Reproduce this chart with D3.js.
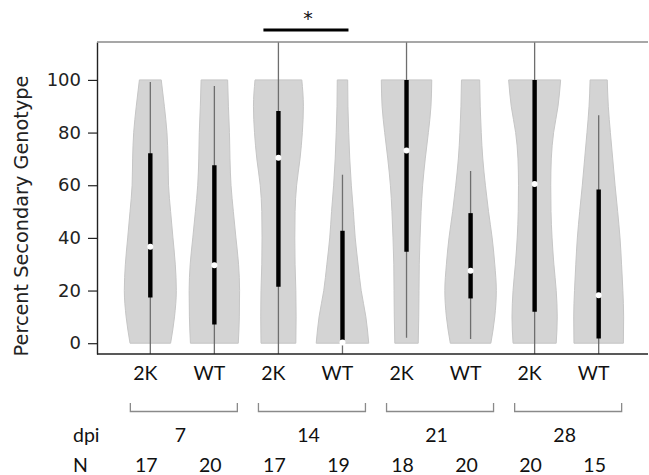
<!DOCTYPE html>
<html>
<head>
<meta charset="utf-8">
<script src="https://cdn.jsdelivr.net/npm/d3@7"></script>
<style>
  body { margin: 0; background: #fff; }
  svg { display: block; }
  .y-title { font-family: "DejaVu Sans", sans-serif; font-size: 19.3px; fill: #222; }
  .cat { font-family: Lato, "Open Sans", sans-serif; font-size: 19.5px; fill: #111; }
  .star { font-family: "DejaVu Sans", sans-serif; font-size: 19px; fill: #111; }
</style>
</head>
<body>
<div id="chart"></div>
<script>
// Violin plot: percent secondary genotype per group (2K / WT at 7, 14, 21, 28 dpi)

const groups = ["2K 7", "WT 7", "2K 14", "WT 14", "2K 21", "WT 21", "2K 28", "WT 28"];
const genotypes = ["2K", "WT", "2K", "WT", "2K", "WT", "2K", "WT"];
const dpiLabels = ["7", "14", "21", "28"];
const nValues = [17, 20, 17, 19, 18, 20, 20, 15];
const yTicks = [0, 20, 40, 60, 80, 100];

// density profile, read at 0, 10, ..., 100 (relative, max ~1)
const densityLevels = [0, 10, 20, 30, 40, 50, 60, 70, 80, 90, 100];
const densities = [
  [0.78, 0.93, 1.00, 0.96, 0.87, 0.78, 0.70, 0.68, 0.64, 0.54, 0.42],
  [0.92, 0.96, 0.97, 0.93, 0.83, 0.73, 0.64, 0.60, 0.58, 0.54, 0.51],
  [0.67, 0.68, 0.67, 0.64, 0.63, 0.64, 0.70, 0.83, 0.92, 0.96, 0.90],
  [1.01, 0.90, 0.72, 0.60, 0.49, 0.42, 0.34, 0.28, 0.24, 0.21, 0.20],
  [0.45, 0.47, 0.48, 0.49, 0.52, 0.56, 0.62, 0.72, 0.84, 0.94, 0.97],
  [0.78, 0.93, 0.99, 0.93, 0.83, 0.69, 0.57, 0.47, 0.41, 0.37, 0.35],
  [0.83, 0.87, 0.83, 0.74, 0.67, 0.63, 0.62, 0.64, 0.73, 0.90, 1.00],
  [0.95, 0.96, 0.93, 0.88, 0.82, 0.73, 0.63, 0.54, 0.45, 0.37, 0.33]
];

const q1 = [17.4, 7.1, 21.4, 1.1, 34.7, 17.0, 11.9, 1.8];
const q3 = [72.1, 67.6, 88.2, 42.7, 100, 49.4, 100, 58.4];
const medians = [36.6, 29.6, 70.4, 0.3, 73.2, 27.5, 60.5, 18.2];
const whiskerLo = [-10, -10, -10, -10, 2.1, 1.6, -10, -10];
const whiskerHi = [99.2, 97.7, 130, 64.0, 130, 65.4, 130, 86.6];

const W = 649, H = 475;
const plot = { left: 97, right: 648, top: 42, bottom: 354 };

const svg = d3.select("#chart").append("svg")
  .attr("width", W)
  .attr("height", H);

const x = d3.scalePoint()
  .domain(groups)
  .range([plot.left + 4, plot.right])
  .padding(0.77);

const y = d3.scaleLinear()
  .domain([-4.1, 114.4])
  .range([plot.bottom, plot.top])
  .clamp(true);

const w = d3.scaleLinear().domain([0, 1]).range([0, 26]);

// violins
const area = d3.area()
  .curve(d3.curveMonotoneY)
  .y(d => y(d.v));

groups.forEach((g, i) => {
  const cx = x(g);
  const pts = densityLevels.map((v, k) => ({ v: v, d: densities[i][k] }));
  svg.append("path")
    .datum(pts)
    .attr("d", area.x0(d => cx - w(d.d)).x1(d => cx + w(d.d)))
    .attr("fill", "#d4d4d4")
    .attr("stroke", "#c6c6c6")
    .attr("stroke-width", 1);
});

// whiskers, boxes, medians
groups.forEach((g, i) => {
  const cx = x(g);
  svg.append("line")
    .attr("x1", cx).attr("x2", cx)
    .attr("y1", y(whiskerLo[i])).attr("y2", y(whiskerHi[i]))
    .attr("stroke", "#6e6e6e")
    .attr("stroke-width", 1.3);
  svg.append("line")
    .attr("x1", cx).attr("x2", cx)
    .attr("y1", y(q1[i])).attr("y2", y(q3[i]))
    .attr("stroke", "#000")
    .attr("stroke-width", 4.4);
  svg.append("circle")
    .attr("cx", cx)
    .attr("cy", y(medians[i]))
    .attr("r", 3)
    .attr("fill", "#fff");
});

// frame: left axis, top line, bottom line
const yAxis = svg.append("g")
  .attr("transform", `translate(${plot.left},0)`)
  .call(d3.axisLeft(y).tickValues(yTicks).tickSize(9).tickSizeOuter(0).tickPadding(7));
yAxis.attr("font-family", "'DejaVu Sans', sans-serif").attr("font-size", 18);
yAxis.selectAll(".tick text").attr("fill", "#222");
yAxis.select(".domain").attr("stroke", "#222").attr("stroke-width", 1.4);
yAxis.selectAll(".tick line").attr("stroke", "#222").attr("stroke-width", 1.2);

svg.append("line")
  .attr("x1", plot.left).attr("x2", plot.right)
  .attr("y1", plot.top).attr("y2", plot.top)
  .attr("stroke", "#8a8a8a").attr("stroke-width", 1.4);
svg.append("line")
  .attr("x1", plot.left).attr("x2", plot.right)
  .attr("y1", plot.bottom).attr("y2", plot.bottom)
  .attr("stroke", "#222").attr("stroke-width", 1.4);

svg.append("text")
  .attr("class", "y-title")
  .attr("transform", `translate(28,216) rotate(-90)`)
  .attr("text-anchor", "middle")
  .text("Percent Secondary Genotype");

// significance bar between 2K and WT at 14 dpi
const sx1 = x(groups[2]) - 15, sx2 = x(groups[3]) + 6;
svg.append("line")
  .attr("x1", sx1).attr("x2", sx2)
  .attr("y1", 30).attr("y2", 30)
  .attr("stroke", "#000").attr("stroke-width", 3);
svg.append("text")
  .attr("class", "star")
  .attr("x", (sx1 + sx2) / 2 + 2)
  .attr("y", 25)
  .attr("text-anchor", "middle")
  .text("*");

// genotype labels
svg.selectAll(".geno")
  .data(groups)
  .join("text")
  .attr("class", "cat")
  .attr("x", d => x(d) - 5)
  .attr("y", 380)
  .attr("text-anchor", "middle")
  .text((d, i) => genotypes[i]);

// brackets + dpi
dpiLabels.forEach((lab, j) => {
  const mid = (x(groups[2 * j]) + x(groups[2 * j + 1])) / 2;
  svg.append("path")
    .attr("d", `M${mid - 52},403 V411.5 H${mid + 55} V403`)
    .attr("fill", "none")
    .attr("stroke", "#8a8a8a")
    .attr("stroke-width", 1.3);
  svg.append("text")
    .attr("class", "cat")
    .attr("x", mid - 2)
    .attr("y", 442)
    .attr("text-anchor", "middle")
    .text(lab);
});

svg.append("text").attr("class", "cat").attr("x", 73).attr("y", 442).text("dpi");
svg.append("text").attr("class", "cat").attr("x", 73).attr("y", 472).text("N");

svg.selectAll(".nval")
  .data(groups)
  .join("text")
  .attr("class", "cat")
  .attr("x", d => x(d) - 4)
  .attr("y", 472)
  .attr("text-anchor", "middle")
  .text((d, i) => nValues[i]);
</script>
</body>
</html>
